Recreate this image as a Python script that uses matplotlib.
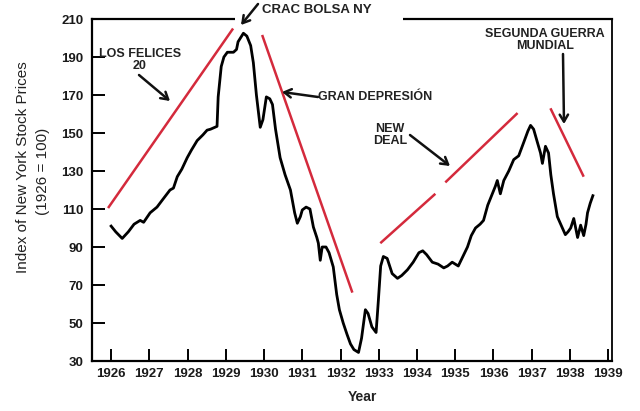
import matplotlib
matplotlib.use("Agg")
import matplotlib.pyplot as plt
from matplotlib.patches import Rectangle, FancyArrowPatch

# ---------------- data ----------------
years = [1926.00, 1926.12, 1926.29, 1926.45, 1926.60, 1926.76, 1926.85, 1927.02, 1927.20, 1927.35,
         1927.54, 1927.63, 1927.73, 1927.85, 1927.99, 1928.10, 1928.25, 1928.40, 1928.51, 1928.60,
         1928.77, 1928.80, 1928.88, 1928.95, 1929.04, 1929.20, 1929.28, 1929.32, 1929.46, 1929.55,
         1929.65, 1929.72, 1929.80, 1929.90, 1929.97, 1930.06, 1930.15, 1930.22, 1930.30, 1930.42,
         1930.55, 1930.69, 1930.80, 1930.87, 1930.95, 1931.00, 1931.10, 1931.20, 1931.29, 1931.38,
         1931.42, 1931.47, 1931.52, 1931.62, 1931.70, 1931.81, 1931.90, 1931.97, 1932.07, 1932.17,
         1932.26, 1932.35, 1932.47, 1932.55, 1932.65, 1932.72, 1932.82, 1932.93, 1932.99, 1933.05,
         1933.12, 1933.22, 1933.35, 1933.49, 1933.60, 1933.75, 1933.90, 1934.05, 1934.15, 1934.25,
         1934.40, 1934.55, 1934.70, 1934.80, 1934.92, 1935.00, 1935.08, 1935.20, 1935.32, 1935.42,
         1935.53, 1935.65, 1935.74, 1935.85, 1935.95, 1936.05, 1936.10, 1936.18, 1936.27, 1936.40,
         1936.53, 1936.66, 1936.79, 1936.90, 1936.97, 1937.05, 1937.15, 1937.23, 1937.28, 1937.36,
         1937.44, 1937.50, 1937.57, 1937.67, 1937.78, 1937.88, 1937.95, 1938.02, 1938.10, 1938.15,
         1938.20, 1938.28, 1938.36, 1938.42, 1938.46, 1938.53, 1938.60]
index = [101, 98, 94.5, 98, 102, 104, 103, 108, 111, 115,
         120, 121, 127, 131, 137, 141, 146, 149, 151.5, 152,
         153.5, 169, 185, 190, 192.5, 192.5, 194, 198, 202.5, 201,
         196, 187, 170, 153, 157, 169, 168, 165, 152, 137,
         128, 120, 108, 102.5, 106, 109.5, 111, 110, 100.5, 95,
         92, 83, 90, 90, 87, 79.5, 65, 57, 50, 44,
         39, 36, 34.5, 42, 57, 55, 48, 45, 62, 80,
         85, 84, 76, 73.5, 75, 78, 82, 87, 88, 86,
         82, 81, 79, 80, 82, 81, 80, 85, 90, 96,
         100, 102, 104, 112, 117, 122, 125, 118, 125, 130,
         136, 138, 145, 151, 154, 152, 145, 139.5, 134, 143,
         139.5, 128, 118, 106, 101, 96.5, 98, 100, 105, 100,
         95, 101.5, 96, 102, 108, 113, 117]

# red trend lines: (x0, y0, x1, y1)
trend_x0 = [1925.92, 1929.95, 1933.04, 1934.74, 1937.49]
trend_y0 = [110.5, 201.6, 92.0, 124.0, 163.0]
trend_x1 = [1929.19, 1932.31, 1934.48, 1936.63, 1938.36]
trend_y1 = [205.0, 66.0, 118.0, 160.5, 127.0]

xticks = list(range(1926, 1940))
yticks = list(range(30, 211, 20))

# ---------------- figure ----------------
W, H = 640, 411
fig = plt.figure(figsize=(W / 100, H / 100), dpi=100)
fig.patch.set_facecolor("white")
ax = fig.add_axes([92 / W, 1 - 361 / H, (612 - 92) / W, (361 - 19) / H])

ax.plot(years, index, color="black", lw=2.0, solid_joinstyle="round", zorder=3)
for x0, y0, x1, y1 in zip(trend_x0, trend_y0, trend_x1, trend_y1):
    ax.plot([x0, x1], [y0, y1], color="#d42a3c", lw=1.8, solid_capstyle="butt", zorder=2,
            clip_on=False)

ax.set_xlim(1925.5, 1939.1)
ax.set_ylim(30, 210)
ax.set_xticks(xticks)
ax.set_yticks(yticks)
ax.set_xticklabels([str(v) for v in xticks])
ax.set_yticklabels([str(v) for v in yticks])

FONT = "Liberation Sans"
for lab in ax.get_xticklabels() + ax.get_yticklabels():
    lab.set_fontfamily(FONT)
    lab.set_fontweight("bold")
    lab.set_fontsize(9.5)
    lab.set_color("#1a1a1a")
ax.tick_params(direction="in", length=9, width=1.4, color="black", pad=5)
ax.tick_params(axis="y", pad=6)
for s in ax.spines.values():
    s.set_linewidth(1.6)
    s.set_color("black")
ax.spines["right"].set_linewidth(1.3)

def P(x, y):
    return (x, H - y)

# white patch covering part of the top spine
fig.patches.append(Rectangle((235, H - 24), 168, 24, transform=None, facecolor="white",
                             edgecolor="none", zorder=10))

txt = dict(fontfamily=FONT, fontsize=9, fontweight="bold", color="#222222", zorder=12)
ASTYLE = "->,head_length=0.5,head_width=0.3"

def arrow(p_from, p_to):
    a = FancyArrowPatch(P(*p_from), P(*p_to), transform=None, arrowstyle=ASTYLE,
                        mutation_scale=10, lw=1.8, color="#111111", zorder=13,
                        shrinkA=0, shrinkB=0)
    fig.patches.append(a)

fig.text(262, H - 10, "CRAC BOLSA NY", transform=None, ha="left", va="center",
         fontfamily=FONT, fontsize=9.5, fontweight="bold", color="#222222", zorder=12)
arrow((258, 4), (241, 25))

fig.text(140, H - 60, "LOS FELICES\n20", transform=None, ha="center", va="center",
         linespacing=1.1, **txt)
arrow((139, 75), (170, 101))

fig.text(318, H - 97, "GRAN DEPRESIÓN", transform=None, ha="left", va="center", **txt)
arrow((318, 97), (282, 92))

fig.text(390, H - 135, "NEW\nDEAL", transform=None, ha="center", va="center",
         linespacing=1.1, **txt)
arrow((410, 135), (450, 166))

fig.text(545, H - 40, "SEGUNDA GUERRA\nMUNDIAL", transform=None, ha="center", va="center",
         linespacing=1.1, **txt)
arrow((563, 54), (564, 124))

fig.text(23, H - 167, "Index of New York Stock Prices", transform=None, rotation=90,
         ha="center", va="center", fontfamily=FONT, fontsize=11, color="#222222")
fig.text(43, H - 171, "(1926 = 100)", transform=None, rotation=90,
         ha="center", va="center", fontfamily=FONT, fontsize=11, color="#222222")
fig.text(362, H - 397, "Year", transform=None, ha="center", va="center",
         fontfamily=FONT, fontsize=10, fontweight="bold", color="#222222")

fig.savefig("out.png", dpi=100, facecolor="white")
